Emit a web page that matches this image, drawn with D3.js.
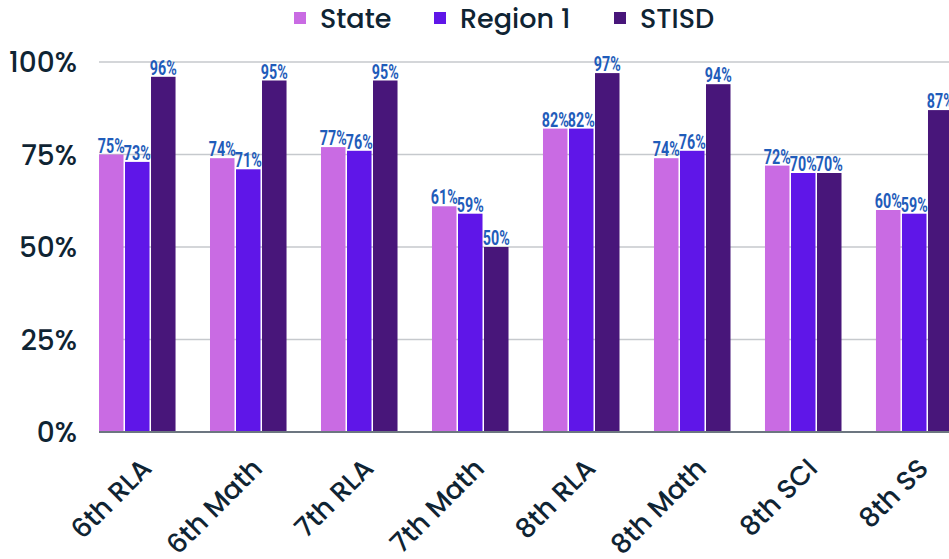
<!DOCTYPE html>
<html>
<head>
<meta charset="utf-8">
<script src="https://cdn.jsdelivr.net/npm/d3@7"></script>
<style>
  body { margin: 0; background: #fff; overflow: hidden; }
  .tick-label { font-family: Poppins, Inter, "Noto Sans", sans-serif; fill: #0f2433; font-weight: 500; }
  .val { font-family: Roboto, "DejaVu Sans", sans-serif; font-weight: 700; fill: #1f5cba; }
</style>
</head>
<body>
<svg width="949" height="559"></svg>
<script>
const categories = ["6th RLA", "6th Math", "7th RLA", "7th Math", "8th RLA", "8th Math", "8th SCI", "8th SS"];
const seriesNames = ["State", "Region 1", "STISD"];
const state = [75, 74, 77, 61, 82, 74, 72, 60];
const region1 = [73, 71, 76, 59, 82, 76, 70, 59];
const stisd = [96, 95, 95, 50, 97, 94, 70, 87];
const yTicks = [0, 25, 50, 75, 100];
const colors = ["#c96be3", "#5f16e8", "#48167a"];

const seriesValues = [state, region1, stisd];
const rows = categories.map((c, i) => ({
  cat: c,
  vals: seriesNames.map((s, j) => ({ key: s, v: seriesValues[j][i], idx: j }))
}));

const svg = d3.select("svg");

const x = d3.scaleBand().domain(categories).range([99, 954]).paddingInner(0.297).paddingOuter(0);
const xs = d3.scaleBand().domain(seriesNames).range([0, x.bandwidth()]);
const y = d3.scaleLinear().domain([0, 100]).range([432, 62]);
const color = d3.scaleOrdinal().domain(seriesNames).range(colors);

// gridlines
svg.append("g")
  .selectAll("line")
  .data(yTicks.filter(d => d > 0))
  .enter().append("line")
  .attr("x1", 99).attr("x2", 949)
  .attr("y1", d => y(d)).attr("y2", d => y(d))
  .attr("stroke", "#c6c9cd").attr("stroke-width", 1.5);

// y tick labels
svg.append("g")
  .selectAll("text")
  .data(yTicks)
  .enter().append("text")
  .attr("class", "tick-label")
  .attr("x", 77)
  .attr("y", d => y(d))
  .attr("dy", "0.36em")
  .attr("text-anchor", "end")
  .style("font-size", "28px")
  .text(d => d + "%");

// bars
const grp = svg.append("g")
  .selectAll("g")
  .data(rows)
  .enter().append("g")
  .attr("transform", d => `translate(${x(d.cat)},0)`);

grp.selectAll("rect")
  .data(d => d.vals)
  .enter().append("rect")
  .attr("x", d => xs(d.key))
  .attr("width", xs.bandwidth() - 1.5)
  .attr("y", d => y(d.v))
  .attr("height", d => y(0) - y(d.v))
  .attr("fill", d => color(d.key));

// value labels, squeezed horizontally to look condensed
grp.selectAll("text")
  .data(d => d.vals)
  .enter().append("text")
  .attr("class", "val")
  .attr("transform", d => `translate(${xs(d.key) + (xs.bandwidth() - 1.5) / 2},${y(d.v) - 2}) scale(0.68,1)`)
  .attr("text-anchor", "middle")
  .style("font-size", "21px")
  .text(d => d.v + "%");

// baseline
svg.append("line")
  .attr("x1", 99).attr("x2", 949)
  .attr("y1", y(0)).attr("y2", y(0))
  .attr("stroke", "#6c7680").attr("stroke-width", 2);

// category labels
svg.append("g")
  .selectAll("text")
  .data(categories)
  .enter().append("text")
  .attr("class", "tick-label")
  .attr("text-anchor", "end")
  .attr("transform", d => `translate(${x(d) + x.bandwidth() / 2 + 15},${470}) rotate(-45)`)
  .style("font-size", "27px")
  .text(d => d);

// legend
const legendX = [294, 434, 614];
const leg = svg.append("g")
  .selectAll("g")
  .data(seriesNames)
  .enter().append("g")
  .attr("transform", (d, i) => `translate(${legendX[i]},0)`);
leg.append("rect")
  .attr("x", 0).attr("y", 12)
  .attr("width", 12).attr("height", 12)
  .attr("fill", d => color(d));
leg.append("text")
  .attr("class", "tick-label")
  .attr("x", 26).attr("y", 28)
  .style("font-size", "27px")
  .text(d => d);
</script>
</body>
</html>
